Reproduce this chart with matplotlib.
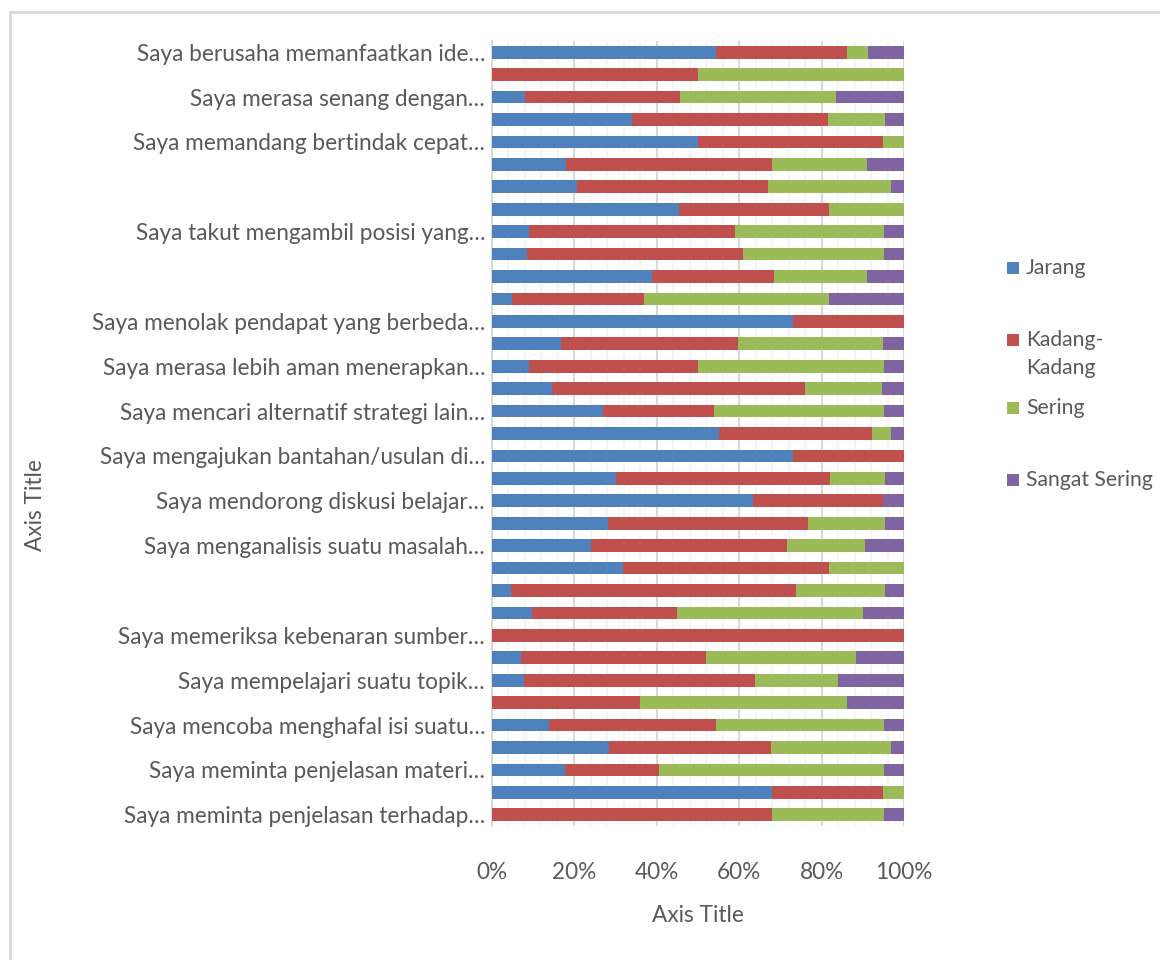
import matplotlib
matplotlib.use("Agg")
from matplotlib import pyplot as plt
from matplotlib.patches import Rectangle
from matplotlib.ticker import MultipleLocator, PercentFormatter
import numpy as np

plt.rcParams["font.family"] = ["Lato", "DejaVu Sans"]

# categories, top to bottom (Excel shows only every other label)
categories = [
    "Saya berusaha memanfaatkan ide…", "",
    "Saya merasa senang dengan…", "",
    "Saya memandang bertindak cepat…", "",
    "", "",
    "Saya takut mengambil posisi yang…", "",
    "", "",
    "Saya menolak pendapat yang berbeda…", "",
    "Saya merasa lebih aman menerapkan…", "",
    "Saya mencari alternatif strategi lain…", "",
    "Saya mengajukan bantahan/usulan di…", "",
    "Saya mendorong diskusi belajar…", "",
    "Saya menganalisis suatu masalah…", "",
    "", "",
    "Saya memeriksa kebenaran sumber…", "",
    "Saya mempelajari suatu topik…", "",
    "Saya mencoba menghafal isi suatu…", "",
    "Saya meminta penjelasan materi…", "",
    "Saya meminta penjelasan terhadap…",
]

series_names = ["Jarang", "Kadang-\nKadang", "Sering", "Sangat Sering"]
colors = ["#4F81BD", "#C0504D", "#9BBB59", "#8064A2"]

# percentages per category, same order as categories
jarang = [54.4, 0.0, 8.0, 33.9, 49.9, 18.0, 20.6, 45.4, 9.0, 8.5,
          38.9, 4.9, 73.0, 16.8, 9.0, 14.5, 27.0, 55.1, 73.0, 30.1,
          63.4, 28.2, 24.0, 31.8, 4.6, 9.8, 0.0, 7.1, 7.8, 0.0,
          13.8, 28.4, 17.7, 67.9, 0.0]
kadang = [31.8, 50.0, 37.7, 47.6, 45.1, 49.9, 46.4, 36.4, 49.9, 52.4,
          29.5, 31.9, 27.0, 42.9, 41.0, 61.5, 26.9, 37.1, 27.0, 52.0,
          31.6, 48.6, 47.5, 50.1, 69.1, 35.1, 100.0, 44.8, 56.1, 36.0,
          40.5, 39.3, 22.8, 27.1, 67.9]
sering = [5.0, 50.0, 37.9, 14.0, 5.0, 23.1, 29.8, 18.2, 36.2, 34.3,
          22.6, 45.1, 0.0, 35.2, 45.1, 18.7, 41.2, 4.6, 0.0, 13.2,
          0.0, 18.5, 19.0, 18.1, 21.6, 45.2, 0.0, 36.4, 20.2, 50.1,
          40.8, 29.1, 54.6, 5.0, 27.2]
sangat_sering = [8.8, 0.0, 16.4, 4.5, 0.0, 9.0, 3.2, 0.0, 4.9, 4.8,
                 9.0, 18.1, 0.0, 5.1, 4.9, 5.3, 4.9, 3.2, 0.0, 4.7,
                 5.0, 4.7, 9.5, 0.0, 4.7, 9.9, 0.0, 11.7, 15.9, 13.9,
                 4.9, 3.2, 4.9, 0.0, 4.9]

values = np.array([jarang, kadang, sering, sangat_sering])
values = values / values.sum(axis=0) * 100

TEXT = "#595959"
FS = 16.3
LEGEND_FS = 15.2

fig = plt.figure(figsize=(11.6, 9.6), dpi=100)
fig.patches.append(Rectangle((9.5 / 1160, -0.05), 1.2, 1.05 - 11.5 / 960,
                             transform=fig.transFigure, fill=False,
                             edgecolor="#D9D9D9", linewidth=2))

ax = fig.add_axes([492 / 1160, 1 - 826 / 960, 412 / 1160, 785 / 960])

y = np.arange(len(categories))
left = np.zeros(len(categories))
for vals, name, color in zip(values, series_names, colors):
    ax.barh(y, vals, left=left, height=0.57, color=color, label=name, zorder=3)
    left += vals

ax.set_xlim(0, 100)
ax.set_ylim(len(categories) - 0.5, -0.5)
ax.xaxis.set_major_locator(MultipleLocator(20))
ax.xaxis.set_minor_locator(MultipleLocator(4))
ax.xaxis.set_major_formatter(PercentFormatter(decimals=0))
ax.grid(axis="x", which="major", color="#D9D9D9", linewidth=1.5, zorder=0)
ax.grid(axis="x", which="minor", color="#F2F2F2", linewidth=1.2, zorder=0)

ax.set_yticks(y)
ax.set_yticklabels(categories)
ax.tick_params(axis="y", length=0, pad=5, labelsize=FS, labelcolor=TEXT)
ax.tick_params(axis="x", which="both", length=0, pad=26, labelsize=FS,
               labelcolor=TEXT)

for side in ["top", "right", "bottom"]:
    ax.spines[side].set_visible(False)
ax.spines["left"].set_color("#D9D9D9")
ax.spines["left"].set_linewidth(1.5)

fig.text(698 / 1160, 1 - 916 / 960, "Axis Title", ha="center", va="center",
         fontsize=FS, color=TEXT)
fig.text(35 / 1160, 1 - 505 / 960, "Axis Title", ha="center", va="center",
         rotation=90, fontsize=FS, color=TEXT)

# legend, laid out like Excel's right-side legend
legend_rows = [268, 340, 408, 480]
for name, color, ly in zip(series_names, colors, legend_rows):
    fig.patches.append(Rectangle((1007 / 1160, 1 - (ly + 6) / 960), 12 / 1160, 12 / 960,
                                 transform=fig.transFigure, facecolor=color,
                                 edgecolor="none"))
    fig.text(1026 / 1160, 1 - (ly - 10) / 960, name, ha="left", va="top",
             fontsize=LEGEND_FS, color=TEXT, linespacing=1.5)

fig.savefig("out.png", dpi=100)
